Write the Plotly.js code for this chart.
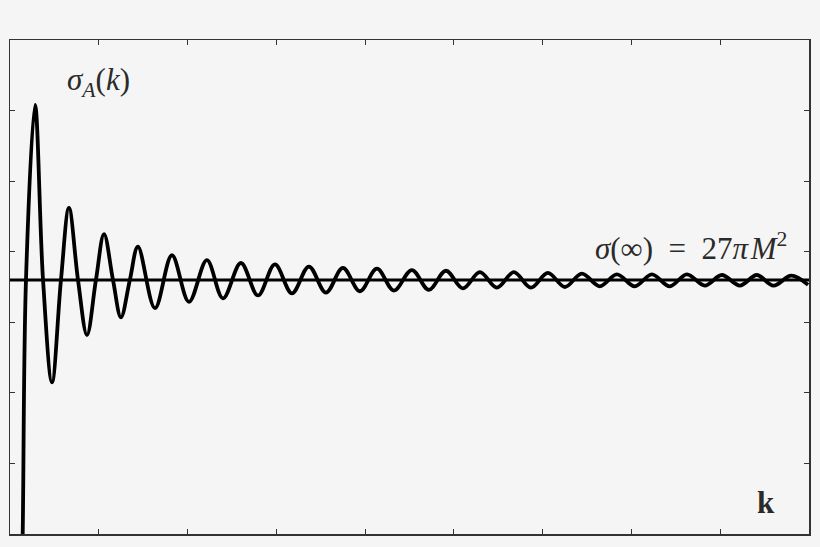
<!DOCTYPE html>
<html>
<head>
<meta charset="utf-8">
<script src="https://cdn.plot.ly/plotly-3.0.1.min.js"></script>
<style>
  html, body { margin: 0; padding: 0; background: #f5f5f5; }
  #chart { width: 820px; height: 547px; }
</style>
</head>
<body>
<div id="chart"></div>
<script>
// sigma_A(k): points (start, line crossings, peaks, troughs)
const kPoints = [
  0.12, 0.143, 0.18, 0.282, 0.372, 0.473, 0.574, 0.664, 0.766, 0.867, 0.968,
  1.059, 1.16, 1.25, 1.35, 1.441, 1.633, 1.824, 2.016, 2.218, 2.399, 2.601,
  2.793, 2.984, 3.176, 3.367, 3.559, 3.750, 3.941, 4.133, 4.324, 4.527, 4.718,
  4.910, 5.101, 5.293, 5.484, 5.676, 5.867, 6.059, 6.250, 6.441, 6.644, 6.836,
  7.038, 7.230, 7.432, 7.624, 7.827, 8.018, 8.221, 8.412, 8.600, 8.80, 8.99
];
const sigmaPoints = [
  -1.5, 0.0, 3.6, 6.08, 3.6, 2.15, 3.6, 4.62, 3.6, 2.82, 3.6,
  4.25, 3.6, 3.07, 3.6, 4.07, 3.20, 3.95, 3.29, 3.88, 3.34, 3.84,
  3.38, 3.82, 3.41, 3.79, 3.42, 3.77, 3.44, 3.76, 3.45, 3.74, 3.46,
  3.73, 3.48, 3.71, 3.49, 3.71, 3.49, 3.70, 3.50, 3.69, 3.51, 3.68,
  3.51, 3.68, 3.51, 3.68, 3.52, 3.67, 3.52, 3.67, 3.52, 3.66, 3.53
];
// geometric cross section sigma(infinity)
const sigmaInf = 3.6;
const kRange = [0, 9];
const sigmaRange = [0, 7];

const traces = [
  {
    x: kRange,
    y: [sigmaInf, sigmaInf],
    mode: 'lines',
    line: { color: '#000', width: 3 },
    hoverinfo: 'skip',
  },
  {
    x: kPoints,
    y: sigmaPoints,
    mode: 'lines',
    line: { color: '#000', width: 3.8, shape: 'spline', smoothing: 1 },
  },
];

const frameAxis = {
  showline: true,
  linecolor: '#333',
  linewidth: 1.5,
  mirror: 'ticks',
  ticks: 'inside',
  ticklen: 5,
  tickwidth: 1.2,
  tickcolor: '#333',
  dtick: 1,
  showticklabels: false,
  showgrid: false,
  zeroline: false,
};

const textFont = { family: 'Liberation Serif, serif', size: 31, color: '#2a2a2a' };

const layout = {
  width: 820,
  height: 547,
  paper_bgcolor: '#f5f5f5',
  plot_bgcolor: '#f5f5f5',
  margin: { l: 10, r: 11, t: 40, b: 13 },
  showlegend: false,
  xaxis: Object.assign({}, frameAxis, { range: kRange, tick0: 0 }),
  yaxis: Object.assign({}, frameAxis, { range: sigmaRange, tick0: 0 }),
  annotations: [
    {
      x: 1.0, y: 6.40, xref: 'x', yref: 'y',
      text: '<i>σ</i><sub><i>A</i></sub>(<i>k</i>)',
      showarrow: false, font: textFont,
    },
    {
      x: 8.78, y: 4.08, xref: 'x', yref: 'y', xanchor: 'right',
      text: '<i>σ</i>(∞)\u2002=\u200227<i>π\u200aM</i><sup>2</sup>',
      showarrow: false, font: textFont,
    },
    {
      x: 8.52, y: 0.45, xref: 'x', yref: 'y',
      text: '<b>k</b>',
      showarrow: false, font: textFont,
    },
  ],
};

Plotly.newPlot('chart', traces, layout, { displayModeBar: false, staticPlot: true });
</script>
</body>
</html>
